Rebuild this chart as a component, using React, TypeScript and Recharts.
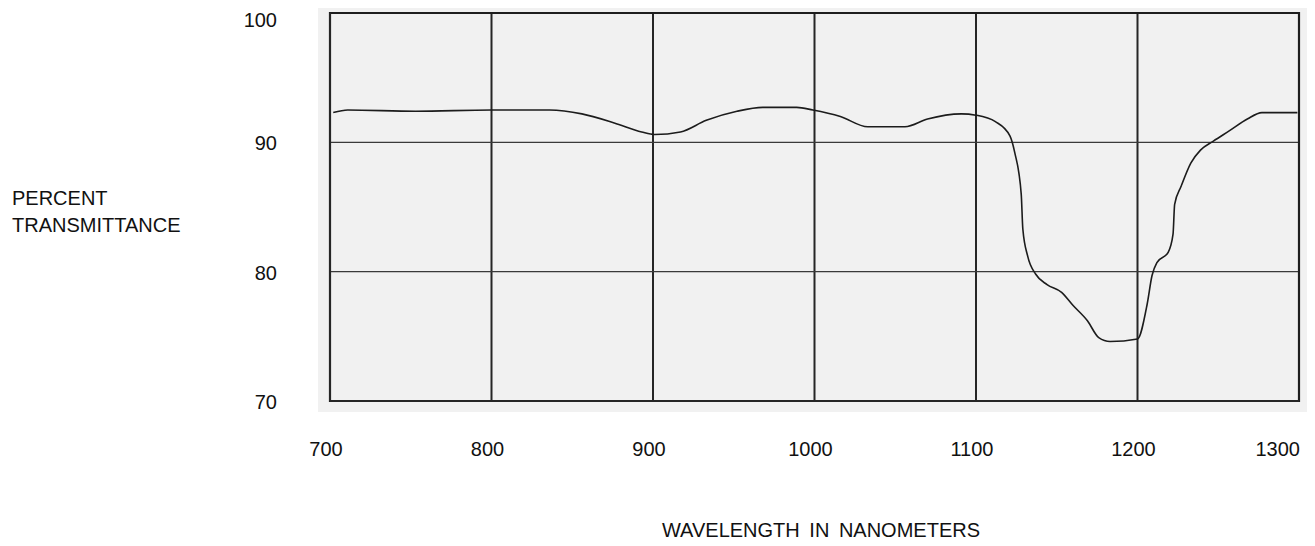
import React from "react";
import { LineChart, Line, XAxis, YAxis, CartesianGrid, ReferenceArea } from "recharts";

// Wavelength (nm) sampled along the trace
const wavelengths = [
  702, 711, 753, 800, 836, 856, 876, 893, 901, 917, 933, 952, 968, 989, 999,
  1016, 1033, 1041, 1056, 1070, 1091, 1100, 1112, 1121, 1124, 1128, 1129, 1132,
  1137, 1144, 1153, 1160, 1169, 1176, 1183, 1200, 1206, 1209, 1212, 1219, 1222,
  1223, 1227, 1233, 1239, 1247, 1257, 1268, 1277, 1299,
];
// Percent transmittance read at each wavelength
const transmittance = [
  92.3, 92.5, 92.4, 92.5, 92.5, 92.2, 91.5, 90.8, 90.6, 90.8, 91.7, 92.4, 92.7,
  92.7, 92.5, 92.0, 91.2, 91.2, 91.2, 91.8, 92.2, 92.1, 91.6, 90.5, 89.2, 86.0,
  83.3, 81.2, 79.8, 79.0, 78.4, 77.4, 76.2, 74.9, 74.6, 74.8, 77.5, 79.7, 80.7,
  81.5, 82.9, 85.2, 86.6, 88.4, 89.4, 90.1, 90.9, 91.8, 92.3, 92.3,
];
const xTicks = [700, 800, 900, 1000, 1100, 1200, 1300];
const yTicks = [70, 80, 90, 100];
const yTitleLines = ["PERCENT", "TRANSMITTANCE"];
const xTitle = "WAVELENGTH IN NANOMETERS";

const data = wavelengths.map((w, i) => ({ wavelength: w, value: transmittance[i] }));

const FONT = "'Liberation Sans', Arial, sans-serif";

const YTitle = () => (
  <text x={4} y={205} fontFamily={FONT} fontSize={20} fill="#111">
    <tspan x={4} y={205}>{yTitleLines[0]}</tspan>
    <tspan x={4} y={232}>{yTitleLines[1]}</tspan>
  </text>
);

const XTitle = () => (
  <text
    x={813}
    y={537}
    textAnchor="middle"
    fontFamily={FONT}
    fontSize={20}
    fill="#111"
    style={{ wordSpacing: 4 }}
  >
    {xTitle}
  </text>
);

const YTick = (props: any) => {
  const { x, y, payload } = props;
  const shift = payload.value === 100 ? 7 : 1;
  return (
    <text
      x={x}
      y={y + shift}
      dy="0.355em"
      textAnchor="end"
      fontFamily={FONT}
      fontSize={20}
      fill="#111"
    >
      {payload.value}
    </text>
  );
};

const XTick = (props: any) => {
  const { x, y, payload } = props;
  const last = payload.value === xTicks[xTicks.length - 1];
  return (
    <text
      x={last ? x + 1 : x - 4}
      y={y}
      dy="0.71em"
      textAnchor={last ? "end" : "middle"}
      fontFamily={FONT}
      fontSize={20}
      fill="#111"
    >
      {payload.value}
    </text>
  );
};

export default function App() {
  return (
    <div style={{ position: "relative", width: 1307, height: 538, marginTop: -8 }}>
      <div
        style={{
          position: "absolute",
          left: 310,
          top: 8,
          width: 992,
          height: 404,
          background: "#f1f1f1",
        }}
      />
      <div style={{ position: "absolute", left: 0, top: 0 }}>
        <LineChart
          width={1307}
          height={546}
          data={data}
          margin={{ top: 13, right: 16, left: 0, bottom: 8 }}
        >
          <CartesianGrid
            horizontal={false}
            vertical={true}
            stroke="#262626"
            strokeWidth={2}
          />
          <CartesianGrid
            horizontal={true}
            vertical={false}
            stroke="#3a3a3a"
            strokeWidth={1.3}
          />
          <ReferenceArea
            x1={xTicks[0]}
            x2={xTicks[xTicks.length - 1]}
            y1={yTicks[0]}
            y2={yTicks[yTicks.length - 1]}
            fill="none"
            fillOpacity={0}
            stroke="#1e1e1e"
            strokeWidth={2.2}
            strokeOpacity={1}
            ifOverflow="visible"
          />
          <XAxis
            type="number"
            dataKey="wavelength"
            domain={[700, 1300]}
            ticks={xTicks}
            interval={0}
            tickLine={false}
            tickSize={0}
            tickMargin={41}
            axisLine={{ stroke: "#262626", strokeWidth: 2 }}
            tick={<XTick />}
            height={137}
            label={<XTitle />}
          />
          <YAxis
            type="number"
            domain={[70, 100]}
            ticks={yTicks}
            interval={0}
            tickLine={false}
            tickSize={0}
            tickMargin={53}
            axisLine={{ stroke: "#262626", strokeWidth: 2 }}
            tick={<YTick />}
            width={322}
            label={<YTitle />}
          />
          <Line
            type="monotone"
            dataKey="value"
            stroke="#1c1c1c"
            strokeWidth={1.6}
            dot={false}
            isAnimationActive={false}
          />
        </LineChart>
      </div>
    </div>
  );
}
